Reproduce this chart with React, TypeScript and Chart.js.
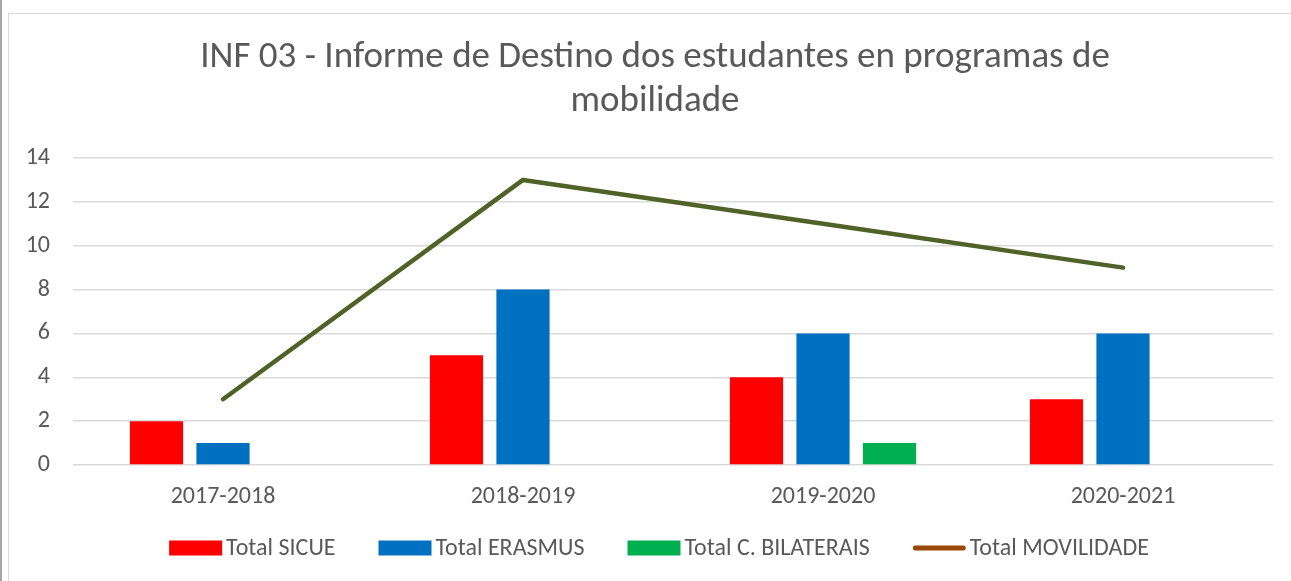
import React, { useEffect, useRef } from "react";
import { Chart, registerables } from "chart.js";

Chart.register(...registerables);

const categories = ["2017-2018", "2018-2019", "2019-2020", "2020-2021"];
const sicue = [2, 5, 4, 3];
const erasmus = [1, 8, 6, 6];
const bilaterais = [0, 0, 1, 0];
const movilidade = [3, 13, 11, 9];
const seriesLabels = ["Total SICUE", "Total ERASMUS", "Total C. BILATERAIS", "Total MOVILIDADE"];
const titleLines = ["INF 03 - Informe de Destino dos estudantes en programas de", "mobilidade"];
const yMin = 0;
const yMax = 14;
const yStep = 2;

const FONT = '"Carlito", "Lato", sans-serif';
const TEXT = "#595959";
const legendColors = ["#FF0000", "#0070C0", "#00B050", "#984807"];

const legendPlugin = {
  id: "excelLegend",
  afterDraw(chart: any) {
    const ctx = chart.ctx as CanvasRenderingContext2D;
    ctx.save();
    ctx.font = `24px ${FONT}`;
    const boxW = 53;
    const boxH = 15;
    const textGap = 4;
    const itemGap = 43;
    const widths = seriesLabels.map((t) => ctx.measureText(t).width);
    const total = widths.reduce((a, w) => a + boxW + textGap + w, 0) + itemGap * (seriesLabels.length - 1);
    let x = chart.width / 2 + 4 - total / 2;
    const y = chart.chartArea.bottom + 83;
    seriesLabels.forEach((t, i) => {
      if (i === 3) {
        ctx.strokeStyle = legendColors[i];
        ctx.lineWidth = 5;
        ctx.lineCap = "round";
        ctx.beginPath();
        ctx.moveTo(x + 2.5, y);
        ctx.lineTo(x + boxW - 2.5, y);
        ctx.stroke();
      } else {
        ctx.fillStyle = legendColors[i];
        ctx.fillRect(x, y - boxH / 2, boxW, boxH);
      }
      ctx.fillStyle = TEXT;
      ctx.textAlign = "left";
      ctx.textBaseline = "middle";
      ctx.fillText(t, x + boxW + textGap, y + 1);
      x += boxW + textGap + widths[i] + itemGap;
    });
    ctx.restore();
  },
};

export default function App() {
  const ref = useRef<HTMLCanvasElement>(null);

  useEffect(() => {
    if (!ref.current) return;
    const chart = new Chart(ref.current, {
      type: "bar",
      data: {
        labels: categories,
        datasets: [
          { type: "bar", label: seriesLabels[0], data: sicue, backgroundColor: "#FF0000", categoryPercentage: 0.665, barPercentage: 0.8 },
          { type: "bar", label: seriesLabels[1], data: erasmus, backgroundColor: "#0070C0", categoryPercentage: 0.665, barPercentage: 0.8 },
          { type: "bar", label: seriesLabels[2], data: bilaterais, backgroundColor: "#00B050", categoryPercentage: 0.665, barPercentage: 0.8 },
          {
            type: "line",
            label: seriesLabels[3],
            data: movilidade,
            borderColor: "#4F6228",
            backgroundColor: "#4F6228",
            borderWidth: 4.5,
            pointRadius: 0,
            tension: 0,
            borderCapStyle: "round",
            borderJoinStyle: "round",
          },
        ],
      } as any,
      options: {
        responsive: false,
        animation: false,
        layout: { padding: { top: 0, left: 0, right: 0, bottom: 72 } },
        plugins: {
          tooltip: { enabled: false },
          title: {
            display: true,
            text: titleLines,
            color: TEXT,
            font: { family: FONT, size: 37, weight: "normal", lineHeight: 44 / 37 },
            padding: { top: 23, bottom: 34 },
          },
          legend: { display: false },
        },
        scales: {
          x: {
            grid: { display: false, drawTicks: false },
            border: { display: false },
            ticks: { color: TEXT, font: { family: FONT, size: 24, lineHeight: 1 }, padding: 20 },
            afterFit: (s: any) => {
              s.height = 44;
              s.paddingLeft = 0;
              s.paddingRight = 0;
            },
          },
          y: {
            min: yMin,
            max: yMax,
            ticks: { stepSize: yStep, color: TEXT, font: { family: FONT, size: 24 }, padding: 23 },
            grid: { color: "#d9d9d9", lineWidth: 1.5, drawTicks: false },
            border: { display: false },
            afterFit: (s: any) => {
              s.width = 65;
              s.paddingTop = 0;
              s.paddingBottom = 0;
            },
          },
          yRight: {
            position: "right",
            display: true,
            ticks: { display: false },
            grid: { display: false, drawTicks: false },
            border: { display: false },
            afterFit: (s: any) => {
              s.width = 29;
              s.paddingTop = 0;
              s.paddingBottom = 0;
            },
          },
        },
      } as any,
      plugins: [legendPlugin],
    });
    return () => chart.destroy();
  }, []);

  return (
    <div style={{ position: "fixed", left: 0, top: 0, width: 1291, height: 581, overflow: "hidden", background: "#fff" }}>
      <div style={{ position: "absolute", left: 0, top: 0, width: 2, height: 581, background: "#a6a6a6" }} />
      <div style={{ position: "absolute", left: 8, top: 13, width: 1294, height: 568 }}>
        <canvas ref={ref} width={1294} height={568} style={{ display: "block" }} />
      </div>
      <div
        style={{
          position: "absolute",
          left: 8,
          top: 13,
          width: 1300,
          height: 600,
          border: "1.5px solid #d9d9d9",
          boxSizing: "border-box",
          pointerEvents: "none",
        }}
      />
    </div>
  );
}
